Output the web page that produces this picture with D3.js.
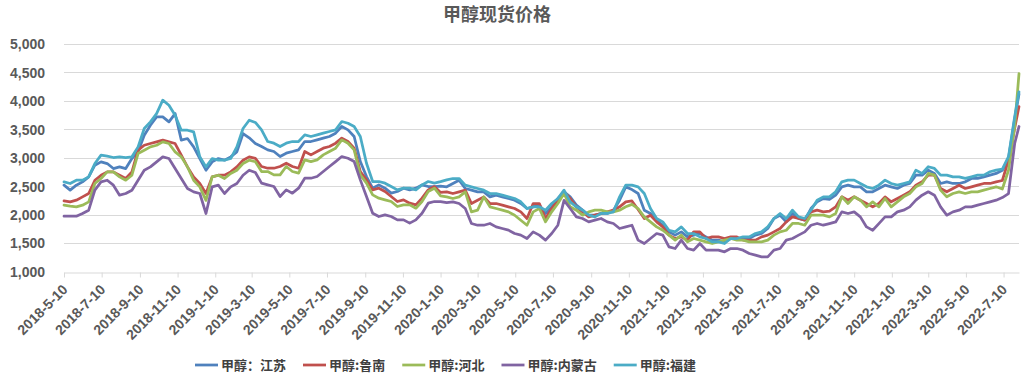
<!DOCTYPE html>
<html>
<head>
<meta charset="utf-8">
<script src="https://cdn.jsdelivr.net/npm/d3@7"></script>
<style>
  html, body { margin: 0; padding: 0; background: #fff; }
  svg { display: block; }
  .num { font-family: "Liberation Sans", Arial, sans-serif; font-weight: bold; fill: #595959; }
  .cjk { font-family: "Noto Sans CJK SC", sans-serif; font-weight: bold; }
</style>
</head>
<body>
<div id="chart"></div>
<script>
// series, one value every 10 days from 2018-5-10, last point 2022-8-4
const jiangsu = [
  2518,2430,2518,2576,2664,2869,2928,2898,2810,2840,2810,2986,3103,3396,3572,3719,3719,3631,3777,3309,
  3338,3191,2986,2781,2928,2986,2957,3016,3103,3426,3350,3250,3197,3139,3110,3021,3080,3110,3139,3285,
  3285,3314,3344,3373,3432,3549,3490,3373,2933,2670,2465,2523,2465,2377,2406,2465,2435,2465,2523,2494,
  2494,2500,2490,2547,2605,2459,2430,2400,2400,2312,2342,2312,2283,2254,2195,2107,2137,2166,2020,2137,
  2283,2400,2312,2166,2078,1990,1990,2020,2020,2078,2254,2488,2440,2371,2078,2020,1902,1814,1697,1639,
  1697,1609,1639,1668,1609,1551,1551,1521,1580,1580,1580,1580,1639,1668,1756,1932,1990,1873,2020,1932,
  1902,2107,2225,2283,2270,2342,2489,2518,2489,2489,2401,2401,2460,2518,2489,2460,2518,2548,2695,2695,
  2783,2724,2548,2577,2548,2548,2577,2636,2636,2665,2695,2724,2780,2990,3680,4120
];
const lunan = [
  2242,2224,2254,2312,2371,2605,2693,2752,2752,2693,2635,2752,3133,3220,3250,3279,3309,3279,3250,3045,
  2840,2664,2547,2371,2664,2693,2693,2752,2840,2957,3016,2990,2846,2816,2816,2846,2904,2846,2816,3110,
  3051,3110,3168,3197,3256,3344,3285,3168,2758,2611,2435,2465,2406,2318,2230,2260,2201,2172,2289,2435,
  2494,2390,2400,2371,2400,2430,2195,2254,2312,2195,2195,2166,2137,2107,2049,1932,2195,2195,1932,2107,
  2254,2400,2283,2137,2049,1961,1990,2020,2049,2078,2137,2225,2240,2090,1932,1990,1873,1785,1639,1580,
  1609,1551,1697,1697,1580,1609,1609,1580,1609,1609,1551,1551,1551,1609,1639,1697,1756,1873,1961,1932,
  1902,2049,2078,2049,2060,2136,2313,2254,2313,2254,2195,2136,2195,2313,2225,2283,2342,2401,2518,2577,
  2695,2695,2460,2401,2460,2518,2460,2489,2518,2548,2548,2577,2600,2960,3520,3900
];
const hebei = [
  2166,2148,2136,2166,2224,2547,2635,2752,2752,2664,2605,2693,3074,3133,3191,3220,3279,3250,3103,3016,
  2840,2605,2488,2250,2664,2693,2635,2723,2781,2898,2957,2930,2758,2758,2699,2699,2846,2758,2729,2963,
  2933,2963,3051,3110,3168,3314,3256,3139,2699,2553,2347,2289,2260,2230,2142,2172,2172,2113,2230,2406,
  2465,2330,2312,2283,2312,2400,2049,2078,2312,2137,2107,2078,2049,1990,1902,1814,2049,2107,1873,2049,
  2195,2371,2137,2078,1990,2049,2078,2078,2049,2049,2078,2137,2180,2107,1961,1873,1785,1726,1639,1551,
  1639,1521,1580,1551,1521,1492,1521,1551,1580,1551,1551,1521,1521,1521,1551,1639,1697,1726,1844,1844,
  1814,1990,1990,1990,1960,2019,2313,2195,2313,2254,2136,2225,2136,2283,2136,2225,2313,2372,2489,2548,
  2724,2695,2430,2313,2372,2401,2372,2401,2401,2430,2460,2489,2450,2780,3550,4480
];
const neimenggu = [
  1972,1972,1972,2020,2078,2430,2576,2605,2518,2342,2371,2430,2605,2781,2840,2928,3016,2986,2810,2635,
  2459,2400,2371,2020,2488,2518,2371,2488,2547,2693,2781,2740,2553,2523,2494,2318,2435,2377,2465,2640,
  2640,2670,2758,2846,2933,3021,2992,2933,2611,2318,2025,1967,1996,1967,1908,1908,1850,1908,2025,2201,
  2230,2230,2210,2225,2195,2107,1844,1814,1814,1844,1785,1756,1727,1668,1639,1580,1697,1639,1551,1668,
  1814,2250,2107,1961,1932,1873,1902,1932,1873,1844,1756,1785,1814,1551,1492,1580,1668,1639,1433,1404,
  1551,1404,1375,1492,1375,1375,1375,1346,1404,1404,1375,1316,1287,1258,1258,1375,1404,1551,1580,1639,
  1697,1814,1844,1814,1842,1872,2048,2019,2048,1960,1784,1725,1842,1960,1960,2048,2078,2136,2254,2342,
  2401,2342,2136,1990,2048,2078,2136,2136,2166,2195,2225,2254,2300,2370,3250,3550
];
const fujian = [
  2576,2547,2605,2605,2664,2898,3045,3027,3004,3016,3004,3016,3191,3514,3631,3777,4012,3924,3748,3484,
  3484,3455,3016,2840,2986,2957,2957,2986,3191,3514,3660,3620,3490,3285,3256,3197,3256,3285,3285,3402,
  3373,3402,3432,3461,3490,3637,3607,3549,3373,2904,2582,2582,2553,2494,2435,2465,2465,2435,2523,2582,
  2553,2580,2610,2635,2635,2518,2488,2459,2430,2371,2371,2342,2312,2283,2225,2107,2137,2137,2078,2195,
  2283,2430,2225,2137,2078,1990,1961,2020,2020,2049,2312,2518,2518,2488,2371,2107,1932,1873,1726,1697,
  1785,1668,1668,1609,1580,1521,1521,1492,1580,1580,1609,1609,1668,1697,1785,1932,2020,1932,2078,1961,
  1932,2078,2254,2312,2313,2401,2577,2607,2607,2548,2489,2460,2518,2607,2548,2518,2548,2577,2783,2724,
  2842,2812,2695,2695,2665,2665,2636,2665,2695,2695,2754,2783,2800,3018,3720,4160
];

const seriesNames = ["甲醇：江苏", "甲醇:鲁南", "甲醇:河北", "甲醇:内蒙古", "甲醇:福建"];
const seriesColors = ["#4F81BD", "#C0504D", "#9BBB59", "#8064A2", "#4BACC6"];
const yTicks = [1000, 1500, 2000, 2500, 3000, 3500, 4000, 4500, 5000];
const xTickLabels = [
  "2018-5-10","2018-7-10","2018-9-10","2018-11-10","2019-1-10","2019-3-10","2019-5-10",
  "2019-7-10","2019-9-10","2019-11-10","2020-1-10","2020-3-10","2020-5-10","2020-7-10",
  "2020-9-10","2020-11-10","2021-1-10","2021-3-10","2021-5-10","2021-7-10","2021-9-10",
  "2021-11-10","2022-1-10","2022-3-10","2022-5-10","2022-7-10"
];
const chartTitle = "甲醇现货价格";

const allSeries = [jiangsu, lunan, hebei, neimenggu, fujian];

const W = 1031, H = 391;
const plotLeft = 64, plotRight = 1019, plotTop = 44, plotBottom = 271.5;

const parse = d3.timeParse("%Y-%m-%d");
const startDate = parse("2018-5-10");
const lastDate = parse("2022-8-4");
const dates = d3.range(jiangsu.length - 1)
  .map(i => d3.timeDay.offset(startDate, i * 10))
  .concat([lastDate]);
const tickDates = xTickLabels.map(parse);

const x = d3.scaleTime().domain([startDate, lastDate]).range([plotLeft, plotRight]);
const y = d3.scaleLinear().domain([1000, 5000]).range([plotBottom, plotTop]);

const svg = d3.select("#chart").append("svg")
  .attr("width", W).attr("height", H);

// title
svg.append("text")
  .attr("class", "cjk")
  .attr("x", 497).attr("y", 21)
  .attr("text-anchor", "middle")
  .attr("font-size", 18)
  .attr("fill", "#595959")
  .text(chartTitle);

// gridlines
svg.append("g")
  .selectAll("line")
  .data(yTicks.slice(1))
  .enter().append("line")
    .attr("x1", plotLeft).attr("x2", plotRight)
    .attr("y1", d => Math.round(y(d)) + 0.5)
    .attr("y2", d => Math.round(y(d)) + 0.5)
    .attr("stroke", "#d9d9d9")
    .attr("stroke-width", 1);

// y axis
const yAxis = svg.append("g")
  .attr("transform", `translate(${plotLeft},0)`)
  .call(d3.axisLeft(y).tickValues(yTicks).tickFormat(d3.format(",")).tickSize(0).tickPadding(19));
yAxis.select(".domain").remove();
yAxis.selectAll("text")
  .attr("class", "num")
  .attr("font-size", 14)
  .attr("dy", "0.35em");

// x axis
const xAxis = svg.append("g")
  .attr("transform", `translate(0,${Math.round(plotBottom) + 0.5})`)
  .call(d3.axisBottom(x).tickValues(tickDates).tickFormat((d, i) => xTickLabels[i]).tickSize(5).tickSizeOuter(0));
xAxis.select(".domain").attr("stroke", "#d9d9d9");
xAxis.selectAll(".tick line").attr("stroke", "#d9d9d9");
xAxis.selectAll("text")
  .attr("class", "num")
  .attr("font-size", 14)
  .attr("text-anchor", "end")
  .attr("dy", 0)
  .attr("y", 0)
  .attr("transform", "translate(4,18) rotate(-45)");

// lines
const line = d3.line()
  .x((d, i) => x(dates[i]))
  .y(d => y(d));

svg.append("g")
  .selectAll("path")
  .data(allSeries)
  .enter().append("path")
    .attr("d", d => line(d))
    .attr("fill", "none")
    .attr("stroke", (d, i) => seriesColors[i])
    .attr("stroke-width", 2.75)
    .attr("stroke-linejoin", "round")
    .attr("stroke-linecap", "round");

// legend
const legend = svg.append("g").attr("transform", "translate(195,365)");
let lx = 0;
seriesNames.forEach((name, i) => {
  const g = legend.append("g").attr("transform", `translate(${lx},0)`);
  g.append("line")
    .attr("x1", 0).attr("x2", 23)
    .attr("stroke", seriesColors[i])
    .attr("stroke-width", 2.75);
  const t = g.append("text")
    .attr("class", "cjk")
    .attr("x", 26).attr("y", 4.5)
    .attr("font-size", 13)
    .attr("fill", "#404040")
    .text(name);
  lx += 26 + t.node().getComputedTextLength() + 17;
});
</script>
</body>
</html>
